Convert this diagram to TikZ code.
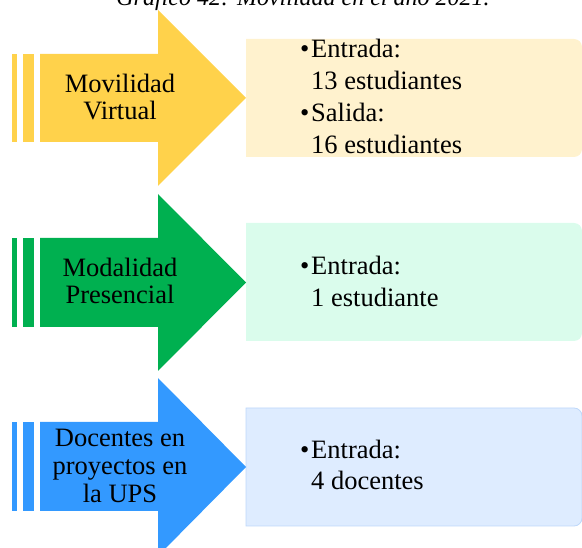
\documentclass[tikz,border=0pt]{standalone}
\usepackage{fontspec}
\setmainfont{Liberation Serif}
\usepackage{tikz}
\usetikzlibrary{positioning}

\begin{document}
\begin{tikzpicture}[x=1pt, y=-1pt, font=\fontsize{26.5}{27}\selectfont,
    linea/.style={anchor=base west, inner sep=0pt},
    etiqueta/.style={anchor=base, inner sep=0pt},
    punto/.style={anchor=base west, inner sep=0pt}]
  \definecolor{amarillo}{RGB}{255,210,75}
  \definecolor{verde}{RGB}{0,176,80}
  \definecolor{azul}{RGB}{51,153,255}
  \definecolor{amarilloclaro}{RGB}{255,242,206}
  \definecolor{verdeclaro}{RGB}{218,252,236}
  \definecolor{azulclaro}{RGB}{222,236,255}
  \definecolor{azulborde}{RGB}{190,216,250}
  \useasboundingbox (0,0) rectangle (582,548);
  % --- titulo (cortado arriba) ---
  \node[etiqueta, font=\fontsize{24}{26}\selectfont\itshape] (titulo) at (303,6)
    {Gráfico 42: Movilidad en el año 2021.};
  % --- cajas de datos ---
  \fill[amarilloclaro] (246,39) -- (574,39) arc[start angle=-90, end angle=0, radius=8]
    -- (582,149) arc[start angle=0, end angle=90, radius=8] -- (246,157) -- cycle;
  \fill[verdeclaro] (246,223) -- (574,223) arc[start angle=-90, end angle=0, radius=8]
    -- (582,333) arc[start angle=0, end angle=90, radius=8] -- (246,341) -- cycle;
  \filldraw[fill=azulclaro, draw=azulborde, line width=0.8pt]
    (246,408) -- (574,408) arc[start angle=-90, end angle=0, radius=8]
    -- (582,518) arc[start angle=0, end angle=90, radius=8] -- (246,526) -- cycle;
  % --- flecha 1: movilidad virtual ---
  \fill[amarillo] (12,54) rectangle (17,142);
  \fill[amarillo] (23,54) rectangle (34,142);
  \fill[amarillo] (40,54) -- (158,54) -- (158,10) -- (246,98)
    -- (158,186) -- (158,142) -- (40,142) -- cycle;
  % --- flecha 2: modalidad presencial ---
  \fill[verde] (12,238) rectangle (17,327);
  \fill[verde] (23,238) rectangle (34,327);
  \fill[verde] (40,238) -- (158,238) -- (158,194) -- (246,282.5)
    -- (158,371) -- (158,327) -- (40,327) -- cycle;
  % --- flecha 3: docentes ---
  \fill[azul] (12,422) rectangle (17,511);
  \fill[azul] (23,422) rectangle (34,511);
  \fill[azul] (40,422) -- (158,422) -- (158,378) -- (246,467)
    -- (158,556) -- (158,511) -- (40,511) -- cycle;
  % --- rotulos de las flechas ---
  \node[etiqueta] (mv1) at (120,93) {Movilidad};
  \node[etiqueta] (mv2) at (120,119.5) {Virtual};
  \node[etiqueta] (mp1) at (120,277) {Modalidad};
  \node[etiqueta] (mp2) at (120,303.5) {Presencial};
  \node[etiqueta] (dc1) at (120,447) {Docentes en};
  \node[etiqueta] (dc2) at (120,475) {proyectos en};
  \node[etiqueta] (dc3) at (120,503) {la UPS};
  % --- contenido de la caja 1 ---
  \node[punto] (p1a) at (300,58) {•};
  \node[linea] (v1a) at (311,58) {Entrada:};
  \node[linea] (v1b) at (311,89.5) {13 estudiantes};
  \node[punto] (p1b) at (300,121.5) {•};
  \node[linea] (v1c) at (311,121.5) {Salida:};
  \node[linea] (v1d) at (311,153.5) {16 estudiantes};
  % --- contenido de la caja 2 ---
  \node[punto] (p2a) at (300,275) {•};
  \node[linea] (v2a) at (311,275) {Entrada:};
  \node[linea] (v2b) at (311,306.5) {1 estudiante};
  % --- contenido de la caja 3 ---
  \node[punto] (p3a) at (300,458.5) {•};
  \node[linea] (v3a) at (311,458.5) {Entrada:};
  \node[linea] (v3b) at (311,490) {4 docentes};
\end{tikzpicture}
\end{document}
